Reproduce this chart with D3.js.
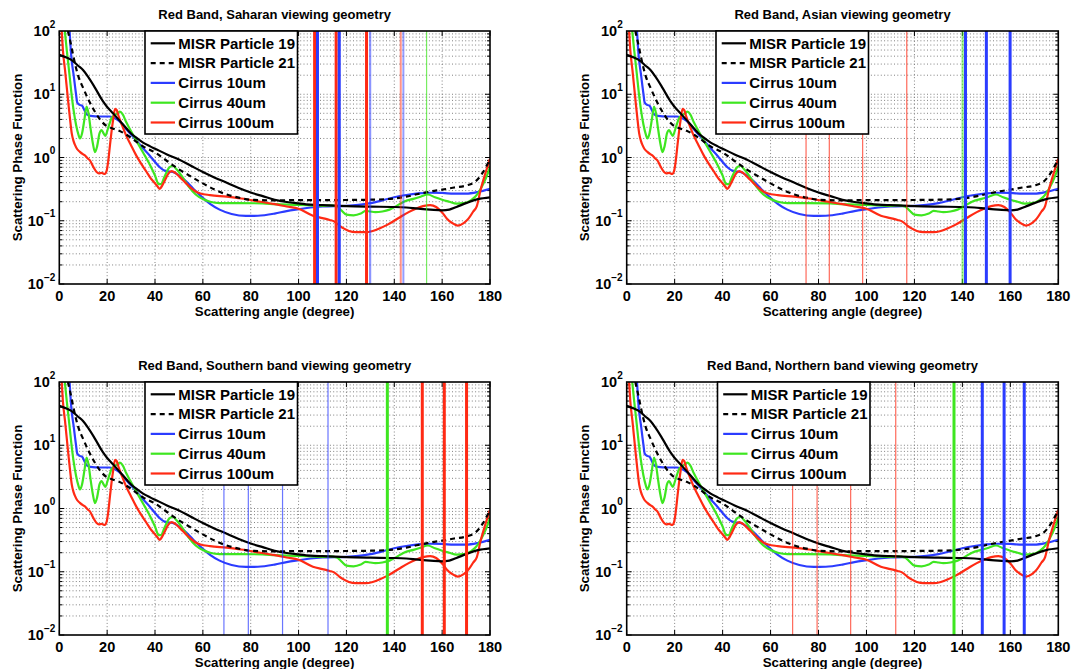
<!DOCTYPE html>
<html><head><meta charset="utf-8">
<script src="https://cdn.jsdelivr.net/npm/d3@7"></script>
<style>
html,body{margin:0;padding:0;background:#fff;}
svg text{font-family:"Liberation Sans",Arial,Helvetica,sans-serif;font-weight:bold;fill:#000;}
</style></head>
<body>
<svg id="chart" width="1072" height="669"></svg>
<script>
// ---------------- data ----------------
const panelTitles = [
  "Red Band, Saharan viewing geometry",
  "Red Band, Asian viewing geometry",
  "Red Band, Southern band viewing geometry",
  "Red Band, Northern band viewing geometry"
];
const xTicks = [0,20,40,60,80,100,120,140,160,180];
const yTickExps = [-2,-1,0,1,2];
const xLabel = "Scattering angle (degree)";
const yLabel = "Scattering Phase Function";
const seriesNames = ["MISR Particle 19","MISR Particle 21","Cirrus 10um","Cirrus 40um","Cirrus 100um"];

// [angle, phase function]
const misr19 = [[0,42],[3,38],[5,35],[8,28],[10,24],[12,19],[15,12.5],[18,8],[20,6.3],[22,5.2],[25,3.9],[28,2.9],[30,2.4],[33,1.95],[35,1.72],[38,1.5],[40,1.38],[45,1.12],[50,0.93],[55,0.74],[60,0.59],[65,0.48],[70,0.40],[75,0.33],[80,0.28],[85,0.245],[90,0.215],[95,0.198],[100,0.188],[105,0.18],[110,0.176],[120,0.17],[130,0.167],[140,0.165],[145,0.162],[150,0.155],[155,0.15],[160,0.146],[163,0.15],[166,0.165],[170,0.19],[175,0.22],[180,0.235]];
const misr21 = [[3.6,100],[5,58],[6,38],[7,26],[8,19],[10,12.5],[12,8.5],[15,5.2],[18,3.6],[20,3.1],[22,2.9],[25,2.65],[28,2.3],[30,2.05],[35,1.5],[40,1.2],[45,0.88],[50,0.65],[55,0.5],[60,0.39],[65,0.31],[70,0.26],[75,0.232],[80,0.215],[90,0.21],[100,0.212],[110,0.212],[120,0.213],[130,0.215],[140,0.225],[145,0.24],[150,0.265],[155,0.29],[160,0.31],[165,0.335],[170,0.36],[174,0.42],[177,0.58],[180,0.95]];
const cirrus10 = [[4.3,100],[5,40],[6,20],[7,10],[7.5,7.4],[8.5,6.8],[9.5,6.6],[10.5,5.6],[11.5,4.8],[13,4.55],[17,4.45],[21,4.45],[22.5,4.3],[25,3.8],[28,2.8],[30,2.3],[32,1.9],[35,1.4],[38,1.05],[40,0.85],[42,0.7],[44,0.62],[46,0.6],[48,0.58],[50,0.52],[53,0.42],[56,0.32],[60,0.23],[63,0.185],[67,0.15],[72,0.128],[78,0.119],[83,0.12],[90,0.13],[95,0.142],[100,0.152],[105,0.162],[110,0.168],[120,0.172],[125,0.178],[130,0.19],[135,0.21],[140,0.235],[145,0.255],[150,0.27],[155,0.277],[160,0.275],[165,0.268],[170,0.268],[175,0.285],[180,0.32]];
const cirrus40 = [[2.3,100],[3,55],[4,25],[5,11],[6,5.5],[7,3.3],[8,2.3],[8.6,2.0],[9.5,2.4],[10.5,4],[11.4,6.4],[12.2,5],[13,3],[14,1.7],[14.9,1.22],[15.8,1.5],[16.8,2.4],[17.7,2.7],[18.5,2.4],[19.2,2.2],[20.5,3],[22,4.3],[24,4.9],[25.3,5.3],[26.5,4.8],[28,3.6],[30,2.6],[32,1.9],[35,1.2],[38,0.75],[40,0.52],[41.5,0.38],[42.5,0.38],[44,0.5],[46,0.7],[47.5,0.74],[49,0.65],[51,0.52],[54,0.35],[57,0.26],[60,0.22],[63,0.2],[67,0.19],[75,0.19],[85,0.188],[90,0.183],[100,0.178],[105,0.175],[110,0.172],[113,0.175],[116,0.168],[118,0.145],[120,0.125],[123,0.122],[126,0.13],[128,0.143],[130,0.14],[132,0.137],[135,0.14],[138,0.15],[141,0.172],[144,0.2],[148,0.222],[151,0.24],[154,0.26],[157,0.235],[160,0.215],[163,0.2],[166,0.187],[169,0.19],[172,0.21],[175,0.27],[177,0.37],[179,0.55],[180,0.72]];
const cirrus100 = [[1,100],[1.5,50],[2.4,24],[3.2,12],[3.8,7.1],[4.5,4],[5.2,2.4],[6,1.8],[6.6,1.57],[7.5,1.35],[8.6,1.23],[10,1.12],[10.7,1.08],[11.8,0.97],[12.8,0.9],[14.2,0.71],[15.6,0.59],[16.5,0.56],[17.7,0.57],[19,0.55],[19.8,0.62],[20.5,0.91],[21.2,1.6],[21.9,2.7],[22.6,4.2],[23.3,5.9],[24,5.6],[24.7,4.6],[26,3.4],[28,2.2],[30,1.55],[32.3,1.05],[34,0.82],[36.5,0.59],[38,0.48],[40,0.39],[41,0.35],[42,0.32],[43,0.36],[44.2,0.44],[45.5,0.55],[47,0.61],[48.5,0.57],[50.4,0.49],[53,0.39],[55,0.33],[57,0.29],[59,0.27],[63,0.255],[70,0.24],[76,0.225],[84,0.2],[90,0.183],[95,0.168],[100,0.155],[106,0.12],[110,0.11],[113,0.103],[115,0.097],[117,0.084],[119,0.075],[121,0.069],[124,0.066],[128,0.066],[131,0.069],[134,0.076],[137,0.086],[140,0.1],[143,0.118],[146,0.137],[149,0.155],[152,0.17],[155,0.177],[157.5,0.165],[160,0.135],[162,0.108],[164,0.093],[166.5,0.084],[169,0.092],[171,0.108],[173,0.14],[174.5,0.17],[176,0.3],[178,0.55],[180,0.95]];

// vertical markers per panel: [angle, series, strength]
const marksSaharan  = [[106.7,"red",1],[107.9,"blue",1],[115.7,"red",1],[117.0,"blue",1],[128.4,"red",1],[129.9,"blue",0.6],[142.7,"red",0.4],[143.8,"blue",0.4],[153.5,"green",0.2]];
const marksAsian    = [[74.8,"red",0.2],[84.5,"red",0.2],[98.4,"red",0.2],[116.8,"red",0.2],[140.1,"green",0.5],[141.3,"blue",1],[150.0,"blue",1],[159.9,"blue",1]];
const marksSouthern = [[68.8,"blue",0.2],[79.0,"blue",0.2],[93.3,"blue",0.2],[112.3,"blue",0.2],[137.1,"green",1],[151.7,"red",1],[160.9,"red",1],[170.2,"red",1]];
const marksNorthern = [[69.2,"red",0.2],[79.4,"red",0.2],[93.4,"red",0.2],[112.2,"red",0.2],[136.5,"green",1],[148.3,"blue",1],[157.4,"blue",1],[165.8,"blue",1]];

// ---------------- drawing ----------------
const colors = {black:"#000000", blue:"#2b3cff", green:"#3ee620", red:"#ff2a14"};
const seriesData = [misr19, misr21, cirrus10, cirrus40, cirrus100];
const seriesStyle = [
  {c:colors.black, dash:null},
  {c:colors.black, dash:"5,4"},
  {c:colors.blue, dash:null},
  {c:colors.green, dash:null},
  {c:colors.red, dash:null}
];
const allMarks = [marksSaharan, marksAsian, marksSouthern, marksNorthern];
const panels = [
  {l:59.3, r:490, t:31, b:284, legendX:145},
  {l:626.7, r:1058.3, t:31, b:284, legendX:716},
  {l:59.3, r:490, t:382, b:635, legendX:145},
  {l:626.7, r:1058.3, t:382, b:635, legendX:717.5}
];

const svg = d3.select("#chart");
const defs = svg.append("defs");

panels.forEach((p, pi) => {
  const x = d3.scaleLinear().domain([0,180]).range([p.l, p.r]);
  const y = d3.scaleLog().domain([0.01,100]).range([p.b, p.t]);
  const g = svg.append("g");
  const clipId = "clip"+pi;
  defs.append("clipPath").attr("id", clipId).append("rect")
    .attr("x", p.l).attr("y", p.t).attr("width", p.r-p.l).attr("height", p.b-p.t);

  g.append("rect").attr("x",p.l).attr("y",p.t).attr("width",p.r-p.l).attr("height",p.b-p.t).attr("fill","#fff");

  // grid
  const yGrid = [];
  for (let e=-2; e<2; e++) for (let m=1; m<10; m++) yGrid.push(m*Math.pow(10,e));
  g.append("g").selectAll("line").data(yGrid.filter(v=>v>0.01)).join("line")
    .attr("x1",p.l).attr("x2",p.r).attr("y1",d=>y(d)).attr("y2",d=>y(d))
    .attr("stroke","#808080").attr("stroke-width",1).attr("stroke-dasharray","1,2.3");
  g.append("g").selectAll("line").data(xTicks.slice(1,-1)).join("line")
    .attr("x1",d=>x(d)).attr("x2",d=>x(d)).attr("y1",p.t).attr("y2",p.b)
    .attr("stroke","#808080").attr("stroke-width",1).attr("stroke-dasharray","1,2.3");

  // ticks (inward)
  const tk = g.append("g").attr("stroke","#000").attr("stroke-width",1);
  xTicks.forEach(v => {
    tk.append("line").attr("x1",x(v)).attr("x2",x(v)).attr("y1",p.b).attr("y2",p.b-5);
    tk.append("line").attr("x1",x(v)).attr("x2",x(v)).attr("y1",p.t).attr("y2",p.t+5);
  });
  yGrid.forEach(v => {
    const major = Math.abs(Math.log10(v) - Math.round(Math.log10(v))) < 1e-9;
    const len = major ? 5 : 3;
    tk.append("line").attr("x1",p.l).attr("x2",p.l+len).attr("y1",y(v)).attr("y2",y(v));
    tk.append("line").attr("x1",p.r).attr("x2",p.r-len).attr("y1",y(v)).attr("y2",y(v));
  });

  // curves
  const line = d3.line().x(d=>x(d[0])).y(d=>y(d[1])).curve(d3.curveMonotoneX);
  const cg = g.append("g").attr("clip-path","url(#"+clipId+")");
  [2,3,4,1,0].forEach(si => {
    cg.append("path").datum(seriesData[si]).attr("d", line)
      .attr("fill","none").attr("stroke", seriesStyle[si].c)
      .attr("stroke-width", 2.2)
      .attr("stroke-dasharray", seriesStyle[si].dash)
      .attr("stroke-linejoin","round");
  });

  // vertical markers
  cg.append("g").selectAll("line").data(allMarks[pi]).join("line")
    .attr("x1",d=>x(d[0])).attr("x2",d=>x(d[0])).attr("y1",p.t).attr("y2",p.b)
    .attr("stroke",d=>colors[d[1]])
    .attr("stroke-width",d=> d[2] >= 1 ? 3 : (d[2] >= 0.5 ? 2.2 : (d[2] >= 0.4 ? 2 : 1.2)))
    .attr("stroke-opacity",d=> d[2] >= 1 ? 1 : (d[2] >= 0.5 ? 0.55 : (d[2] >= 0.4 ? 0.5 : 0.7)));

  // frame
  g.append("rect").attr("x",p.l).attr("y",p.t).attr("width",p.r-p.l).attr("height",p.b-p.t)
    .attr("fill","none").attr("stroke","#000").attr("stroke-width",1.6);

  // legend
  const lx = p.legendX, ly = p.t, lw = 152.5, lh = 103;
  const lg = g.append("g");
  lg.append("rect").attr("x",lx).attr("y",ly).attr("width",lw).attr("height",lh)
    .attr("fill","#fff").attr("stroke","#000").attr("stroke-width",1.6);
  seriesNames.forEach((nm, i) => {
    const cy = ly + 12.3 + i*19.8;
    lg.append("line").attr("x1",lx+5.7).attr("x2",lx+30).attr("y1",cy).attr("y2",cy)
      .attr("stroke",seriesStyle[i].c).attr("stroke-width",2.2)
      .attr("stroke-dasharray",seriesStyle[i].dash);
    lg.append("text").attr("x",lx+33.3).attr("y",cy+5.3).attr("font-size",15).text(nm);
  });

  // axis tick labels
  xTicks.forEach(v => {
    g.append("text").attr("x",x(v)).attr("y",p.b+16.8).attr("text-anchor","middle")
      .attr("font-size",14.5).text(v);
  });
  yTickExps.forEach(e => {
    const t = g.append("text").attr("x",p.l-4).attr("y",y(Math.pow(10,e))+5).attr("text-anchor","end").attr("font-size",14.5);
    t.append("tspan").text("10");
    t.append("tspan").attr("font-size",10).attr("dy",-8.5).text(e<0 ? "\u2212"+(-e) : String(e));
  });

  // axis titles
  g.append("text").attr("x",(p.l+p.r)/2).attr("y",p.b+31.7).attr("text-anchor","middle")
    .attr("font-size",13.3).text(xLabel);
  g.append("text").attr("transform","translate("+(p.l-37.3)+","+((p.t+p.b)/2)+") rotate(-90)")
    .attr("text-anchor","middle").attr("font-size",13.3).text(yLabel);
  g.append("text").attr("x",(p.l+p.r)/2).attr("y",p.t-12).attr("text-anchor","middle")
    .attr("font-size",13).text(panelTitles[pi]);
});
</script>
</body></html>
